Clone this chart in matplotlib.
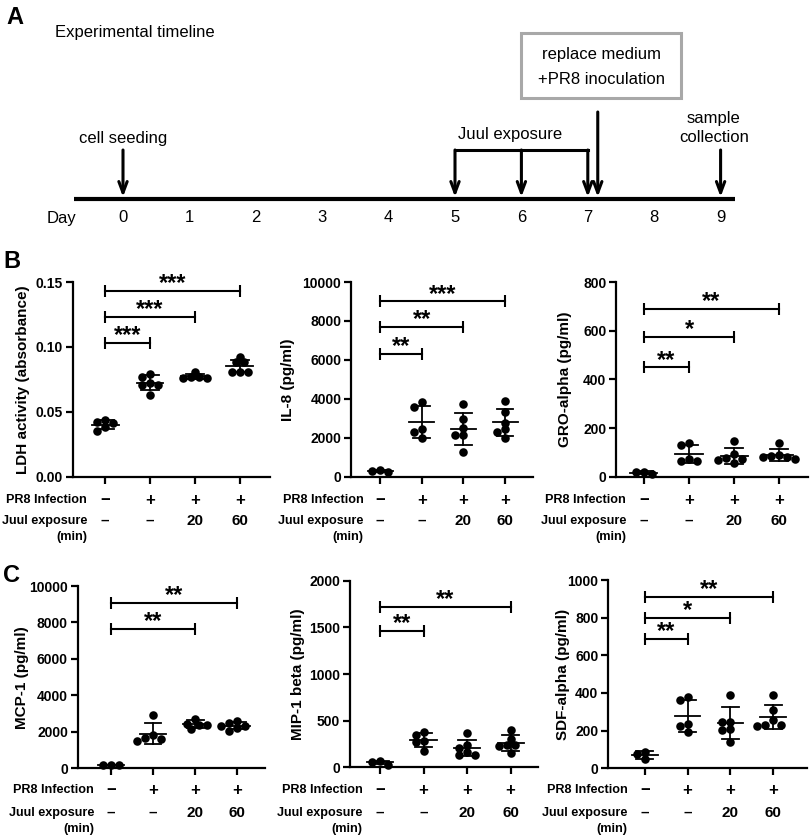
import matplotlib
matplotlib.use('Agg')
import matplotlib.pyplot as plt
import matplotlib.patches as mpatches
import numpy as np
from matplotlib.transforms import blended_transform_factory

plt.rcParams['font.family'] = ['Liberation Sans', 'DejaVu Sans']

# ---------------- data ----------------
day_ticks = [0, 1, 2, 3, 4, 5, 6, 7, 8, 9]
seeding_day = 0
juul_days = [5, 6, 7]
pr8_day = 7.15
collection_day = 9

pr8_row = ['\u2212', '+', '+', '+']
juul_row = ['\u2013', '\u2013', '20', '60']

ldh = [[0.044, 0.041, 0.042, 0.035, 0.038],
       [0.0795, 0.077, 0.072, 0.071, 0.071, 0.063],
       [0.081, 0.077, 0.077, 0.076, 0.076],
       [0.092, 0.088, 0.088, 0.081, 0.081, 0.081]]
il8 = [[230, 330, 290],
       [3590, 3830, 2430, 1970, 2310],
       [3710, 2975, 2120, 2120, 2510, 1280],
       [3880, 3320, 2770, 2000, 2310, 2430]]
gro = [[11, 21, 18],
       [140, 130, 66, 66, 71],
       [147, 92, 75, 71, 55, 68],
       [140, 89, 85, 80, 80, 71]]
mcp = [[180, 200, 170],
       [2910, 1810, 1500, 1650, 1590],
       [2360, 2730, 2140, 2450, 2400],
       [2330, 2600, 2050, 2470, 2230, 2300]]
mip = [[30, 65, 60],
       [379, 279, 179, 343, 271],
       [368, 207, 236, 129, 136, 165],
       [404, 300, 243, 236, 154, 230]]
sdf = [[48, 87, 76],
       [380, 363, 195, 234, 227],
       [389, 248, 248, 209, 204, 138],
       [389, 310, 257, 227, 230, 232]]

ldh_sig = [(0, 1, 0.103, '***'), (0, 2, 0.123, '***'), (0, 3, 0.143, '***')]
il8_sig = [(0, 1, 6300, '**'), (0, 2, 7700, '**'), (0, 3, 9000, '***')]
gro_sig = [(0, 1, 450, '**'), (0, 2, 575, '*'), (0, 3, 690, '**')]
mcp_sig = [(0, 2, 7640, '**'), (0, 3, 9050, '**')]
mip_sig = [(0, 1, 1464, '**'), (0, 3, 1721, '**')]
sdf_sig = [(0, 1, 685, '**'), (0, 2, 800, '*'), (0, 3, 912, '**')]

ldh_ticks = [0, 0.05, 0.10, 0.15]
il8_ticks = [0, 2000, 4000, 6000, 8000, 10000]
gro_ticks = [0, 200, 400, 600, 800]
mcp_ticks = [0, 2000, 4000, 6000, 8000, 10000]
mip_ticks = [0, 500, 1000, 1500, 2000]
sdf_ticks = [0, 200, 400, 600, 800, 1000]

# ---------------- figure ----------------
W, H = 810, 839
fig = plt.figure(figsize=(W / 100, H / 100), dpi=100)

# ---------- Panel A ----------
A_h = 235
axA = fig.add_axes([0, 1 - A_h / H, 1, A_h / H])
px_day = 66.4
day0 = 123
axA.set_xlim(-day0 / px_day, (W - day0) / px_day)
axA.set_ylim(A_h, 0)
axA.axis('off')

line_y = 199
axA.plot([-0.74, 9.22], [line_y, line_y], color='k', lw=3.0, solid_capstyle='butt')
for d in day_ticks:
    axA.text(d, 218, str(d), ha='center', va='center', fontsize=12)
axA.text(-0.92, 218, 'Day', ha='center', va='center', fontsize=12)

arrow_kw = dict(arrowstyle='->,head_length=0.8,head_width=0.3', lw=2.2, color='k',
                shrinkA=0, shrinkB=0)

def down_arrow(d, y0):
    axA.annotate('', xy=(d, line_y - 2), xytext=(d, y0), arrowprops=arrow_kw)

down_arrow(seeding_day, 150)
axA.text(seeding_day, 138, 'cell seeding', ha='center', va='center', fontsize=12)

for d in juul_days:
    down_arrow(d, 150)
axA.plot([juul_days[0], juul_days[-1]], [150, 150], color='k', lw=2.2, solid_capstyle='projecting')
axA.text(np.mean(juul_days) - 0.17, 135, 'Juul exposure', ha='center', va='center', fontsize=12)

down_arrow(pr8_day, 112)
box = mpatches.Rectangle((pr8_day - 1.16, 33), 2.41, 65, fill=False, ec='#a8a8a8', lw=2.2)
axA.add_patch(box)
axA.text(pr8_day + 0.05, 55, 'replace medium', ha='center', va='center', fontsize=12)
axA.text(pr8_day + 0.05, 80, '+PR8 inoculation', ha='center', va='center', fontsize=12)

down_arrow(collection_day, 150)
axA.text(collection_day - 0.1, 118, 'sample', ha='center', va='center', fontsize=12)
axA.text(collection_day - 0.1, 137, 'collection', ha='center', va='center', fontsize=12)

fig.text(6 / W, 1 - 17 / H, 'A', fontsize=17, fontweight='bold', ha='left', va='center')
axA.text(-1.03, 33, 'Experimental timeline', ha='left', va='center', fontsize=12)

fig.text(3 / W, 1 - 262 / H, 'B', fontsize=17, fontweight='bold', ha='left', va='center')
fig.text(3 / W, 1 - 575 / H, 'C', fontsize=17, fontweight='bold', ha='left', va='center')

# ---------- Panels B/C ----------
def px_axes(l, t, r, b):
    return fig.add_axes([l / W, 1 - b / H, (r - l) / W, (b - t) / H])

def swarm_x(ax, x0, vals, d_px=6.5, step_px=4.0):
    tr = ax.transData
    inv = tr.inverted()
    x0p = tr.transform((x0, 0))[0]
    yps = [tr.transform((x0, v))[1] for v in vals]
    order = np.argsort(-np.asarray(vals, dtype=float), kind='stable')
    cands = [0.0]
    for n in range(1, 30):
        cands += [-n * step_px, n * step_px]
    placed = []
    xs = [x0] * len(vals)
    for i in order:
        yp = yps[i]
        for c in cands:
            if all((c - px) ** 2 + (yp - py) ** 2 >= d_px ** 2 for px, py in placed):
                placed.append((c, yp))
                xs[i] = inv.transform((x0p + c, yp))[0]
                break
    return xs

def draw_panel(pos, xlim, groups, ticks, fmt, ylabel, ylab_x, sigs, rows_y):
    l, t, r, b = pos
    ax = px_axes(l, t, r, b)
    ax.set_xlim(*xlim)
    ax.set_ylim(ticks[0], ticks[-1])
    for s in ['top', 'right']:
        ax.spines[s].set_visible(False)
    for s in ['left', 'bottom']:
        ax.spines[s].set_linewidth(1.6)
    ax.spines['left'].set_bounds(ticks[0], ticks[-1])
    ax.set_yticks(ticks)
    ax.set_yticklabels([fmt.format(v) for v in ticks], fontsize=10, fontweight='bold')
    ax.set_xticks(range(len(groups)))
    ax.set_xticklabels([])
    ax.tick_params(axis='both', direction='out', length=5, width=1.6, pad=2)
    ax.patch.set_visible(False)

    for i, g in enumerate(groups):
        g = np.asarray(g, dtype=float)
        m = g.mean()
        sd = g.std(ddof=1)
        ax.plot([i - 0.3, i + 0.3], [m, m], color='k', lw=1.3, zorder=4, clip_on=False)
        ax.plot([i, i], [m - sd, m + sd], color='k', lw=1.3, zorder=4, clip_on=False)
        for yy in (m - sd, m + sd):
            ax.plot([i - 0.2, i + 0.2], [yy, yy], color='k', lw=1.3, zorder=4, clip_on=False)
        xs = swarm_x(ax, i, list(g))
        ax.scatter(xs, g, s=38, color='k', zorder=5, clip_on=False, linewidths=0)

    for i, j, y, lab in sigs:
        ax.plot([i, j], [y, y], color='k', lw=1.5, clip_on=False)
        ax.plot([i, j], [y, y], linestyle='none', marker='|', ms=9, mew=1.5,
                color='k', clip_on=False)
        ax.annotate(lab, xy=((i + j) / 2, y), xytext=(0, -3), textcoords='offset points',
                    ha='center', va='bottom', fontsize=17, fontweight='bold',
                    annotation_clip=False)

    fig.text(ylab_x / W, 1 - (t + b) / 2 / H, ylabel, rotation=90, ha='center',
             va='center', fontsize=11, fontweight='bold')

    trb = blended_transform_factory(ax.transData, fig.transFigure)
    y1, y2, y3 = rows_y
    ax.text(-0.4, 1 - y1 / H, 'PR8 Infection', transform=trb, ha='right', va='center',
            fontsize=9.1, fontweight='bold')
    ax.text(-0.4, 1 - y2 / H, 'Juul exposure', transform=trb, ha='right', va='center',
            fontsize=9.1, fontweight='bold')
    ax.text(-0.4, 1 - y3 / H, '(min)', transform=trb, ha='right', va='center',
            fontsize=9.1, fontweight='bold')
    for i in range(len(groups)):
        ax.text(i, 1 - y1 / H, pr8_row[i], transform=trb, ha='center', va='center',
                fontsize=12, fontweight='bold')
        ax.text(i, 1 - y2 / H, juul_row[i], transform=trb, ha='center', va='center',
                fontsize=11, fontweight='bold')
    return ax

rowsB = (500, 521, 537)
rowsC = (790, 813, 829)

draw_panel((72.7, 282, 270, 476.7), (-0.72, 3.67), ldh, ldh_ticks, '{:.2f}',
           'LDH activity (absorbance)', 23, ldh_sig, rowsB)
draw_panel((351, 282, 533, 476.7), (-0.70, 3.67), il8, il8_ticks, '{:.0f}',
           'IL-8 (pg/ml)', 288, il8_sig, rowsB)
draw_panel((616, 282.3, 808, 476.7), (-0.62, 3.64), gro, gro_ticks, '{:.0f}',
           'GRO-alpha (pg/ml)', 565, gro_sig, rowsB)
draw_panel((77.7, 586, 265, 768.3), (-0.79, 3.66), mcp, mcp_ticks, '{:.0f}',
           'MCP-1 (pg/ml)', 22, mcp_sig, rowsC)
draw_panel((350, 580.7, 538, 767.3), (-0.69, 3.63), mip, mip_ticks, '{:.0f}',
           'MIP-1 beta (pg/ml)', 298, mip_sig, rowsC)
draw_panel((608, 580, 807, 768.3), (-0.86, 3.79), sdf, sdf_ticks, '{:.0f}',
           'SDF-alpha (pg/ml)', 563, sdf_sig, rowsC)

fig.savefig('out.png', dpi=100)
